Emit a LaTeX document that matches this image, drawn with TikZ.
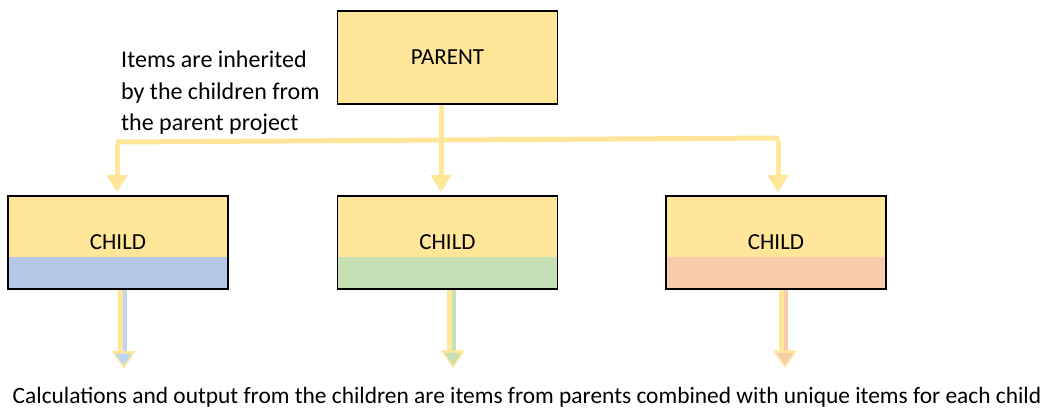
\documentclass[tikz,border=0pt]{standalone}
\usepackage{fontspec}
\setmainfont{Carlito}
\usetikzlibrary{arrows.meta}
\definecolor{gold}{HTML}{FFE699}
\definecolor{cblue}{HTML}{B4C7E7}
\definecolor{cgreen}{HTML}{C5E0B4}
\definecolor{corange}{HTML}{F8CBAD}
\definecolor{ablue}{HTML}{BDD7EE}
\definecolor{agreen}{HTML}{C5E0B4}
\definecolor{aorange}{HTML}{F8CBAD}
\tikzset{
  box/.style={draw=black, line width=1.6pt, fill=gold, minimum width=220pt, minimum height=93pt, inner sep=0pt, font=\fontsize{23}{27}\selectfont},
  band/.style={path picture={\fill[#1] ([yshift=32pt]path picture bounding box.south west) rectangle (path picture bounding box.south east);}},
  conn/.style={draw=gold, line width=5pt, -{Triangle[width=20pt,length=17pt]}},
  plain/.style={draw=gold, line width=5pt},
  yshaft/.style={draw=gold, line width=5pt},
  cshaft/.style={draw=#1, line width=4pt},
  yhead/.style={fill=gold},
  chead/.style={fill=#1},
  note/.style={inner sep=0pt, font=\fontsize{24}{31.3}\selectfont},
  foot/.style={inner sep=0pt, font=\fontsize{23.4}{28}\selectfont}
}
\newcommand{\outarrow}[3]{%
  % #1 box name, #2 tip coordinate, #3 colour
  \draw[yshaft] ([xshift=-3.7pt]#2 |- #1.south) -- ([xshift=-3.7pt,yshift=17pt]#2);
  \draw[cshaft=#3] ([xshift=1pt]#2 |- #1.south) -- ([xshift=1pt,yshift=17pt]#2);
  \fill[yhead] ([xshift=-12pt,yshift=17.6pt]#2) -- ([xshift=12pt,yshift=17.6pt]#2) -- (#2) -- cycle;
  \fill[chead=#3] ([xshift=-8.5pt,yshift=15pt]#2) -- ([xshift=8pt,yshift=15pt]#2) -- ([yshift=3pt]#2) -- cycle;
}
\begin{document}
\begin{tikzpicture}[x=1pt,y=-1pt]
\useasboundingbox (0,0) rectangle (1048,410);
\node[box] (parent) at (447.5,57.5) {PARENT};
\node[box, band=cblue] (c1) at (118,242.5) {CHILD};
\node[box, band=cgreen] (c2) at (447.5,242.5) {CHILD};
\node[box, band=corange] (c3) at (776,242.5) {CHILD};
\node[note, align=left, anchor=north west] (txt) at (121,51) {Items are inherited\\by the children from\\the parent project};
\node[foot, anchor=base] (bottom) at (527,403) {Calculations and output from the children are items from parents combined with unique items for each child};
\coordinate (hl) at (117,142);
\coordinate (hr) at (778,138);
\coordinate (e1) at (123.7,368.5);
\coordinate (e2) at (453,368);
\coordinate (e3) at (785,368);
\draw[plain] ([xshift=-1pt]hl) -- ([xshift=1pt]hr);
\draw[conn] ([xshift=-6.5pt]parent.south) -- ([xshift=-6.5pt,yshift=3pt]c2.north);
\draw[conn] ([yshift=-2pt]hl) -- ([yshift=3pt]hl |- c1.north);
\draw[conn] ([yshift=-2pt]hr) -- ([yshift=3pt]hr |- c3.north);
\outarrow{c1}{e1}{ablue}
\outarrow{c2}{e2}{agreen}
\outarrow{c3}{e3}{aorange}
\end{tikzpicture}
\end{document}
